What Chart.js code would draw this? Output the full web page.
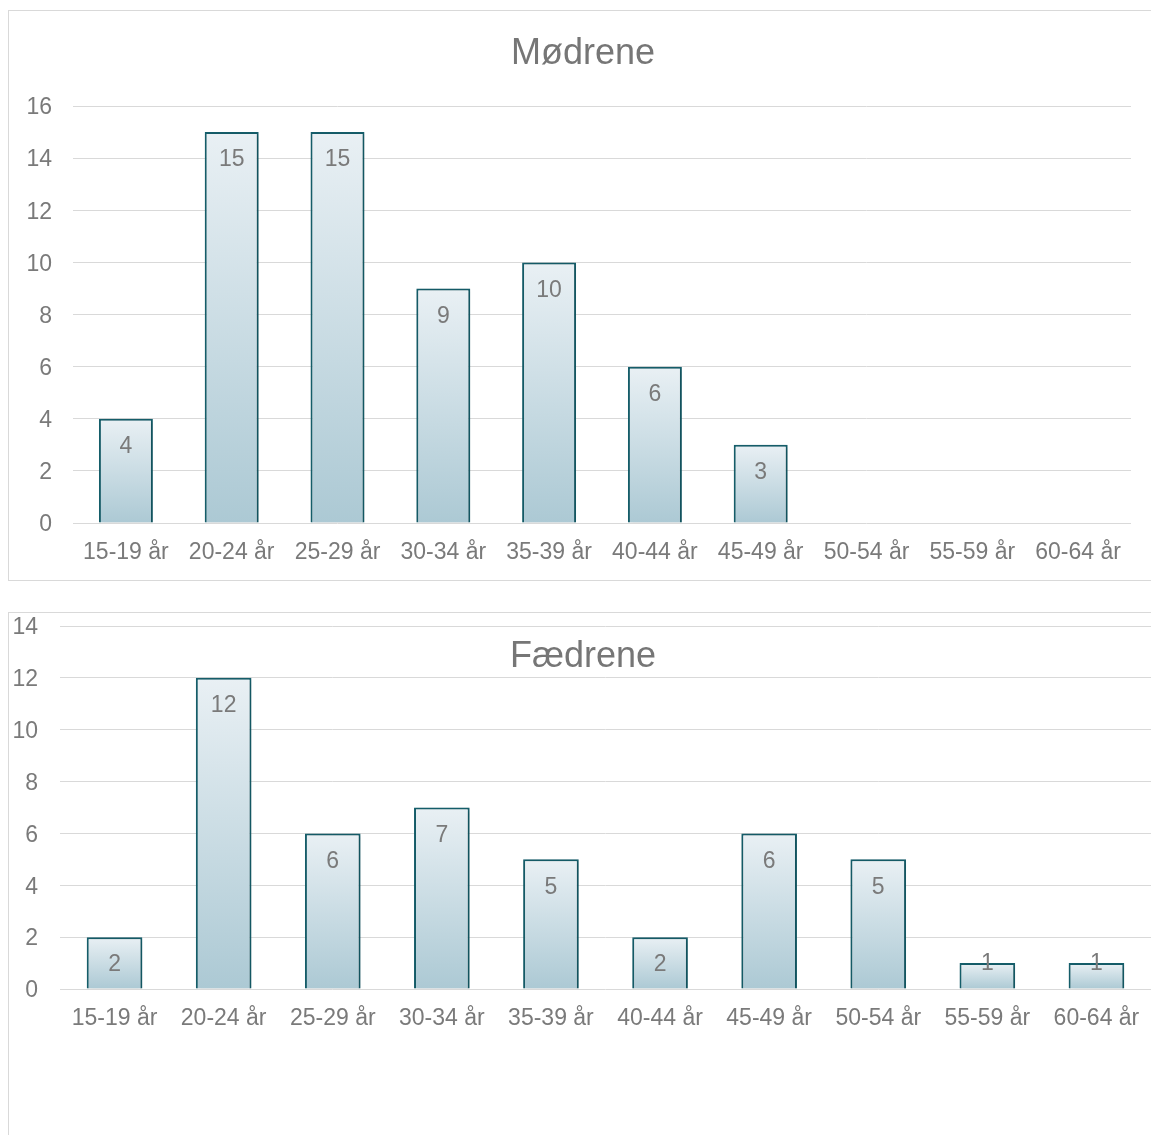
<!DOCTYPE html>
<html>
<head>
<meta charset="utf-8">
<script src="https://cdn.jsdelivr.net/npm/chart.js@4"></script>
<style>
  html, body { margin: 0; padding: 0; background: #fff; overflow: hidden; }
  .frame { position: absolute; border: 1px solid #d9d9d9; box-sizing: border-box; }
  .inner { position: absolute; left: 0; top: 0; }
</style>
</head>
<body>
<div class="frame" style="left:8px; top:10px; width:1160px; height:571px;">
  <div class="inner" style="width:1142px; height:569px;"><canvas id="motherChart"></canvas></div>
</div>
<div class="frame" style="left:8px; top:612px; width:1160px; height:560px;">
  <div class="inner" style="width:1142px; height:522px;"><canvas id="fatherChart"></canvas></div>
</div>
<script>
// age groups shared by both charts
const ageGroups = ['15-19 år', '20-24 år', '25-29 år', '30-34 år', '35-39 år',
                   '40-44 år', '45-49 år', '50-54 år', '55-59 år', '60-64 år'];
const motherCounts = [4, 15, 15, 9, 10, 6, 3, null, null, null];
const fatherCounts = [2, 12, 6, 7, 5, 2, 6, 5, 1, 1];
const motherTicks = [0, 2, 4, 6, 8, 10, 12, 14, 16];
const fatherTicks = [0, 2, 4, 6, 8, 10, 12, 14];

const FONT = "'Liberation Sans', Arial, sans-serif";
const TEXT_GREY = '#7a7a7a';

// each bar gets its own light-to-dark gradient
function barFill(ctx) {
    const chart = ctx.chart;
    if (!chart.chartArea || ctx.type !== 'data' || ctx.raw == null) return '#cfdfe6';
    const y = chart.scales.y;
    const top = y.getPixelForValue(ctx.raw);
    const base = y.getPixelForValue(0);
    if (Math.abs(base - top) < 1) return '#cfdfe6';
    const g = chart.ctx.createLinearGradient(0, top, 0, base);
    g.addColorStop(0, '#e9f0f4');
    g.addColorStop(1, '#acc9d4');
    return g;
}

const barLook = {
    id: 'barLook',
    beforeDatasetsDraw(chart) {
        const c = chart.ctx;
        c.save();
        c.shadowColor = 'rgba(0,0,0,0.22)';
        c.shadowBlur = 4;
        c.shadowOffsetX = 1;
        c.shadowOffsetY = 1;
    },
    afterDatasetsDraw(chart) {
        chart.ctx.restore();
        // value labels inside the bar top
        const c = chart.ctx;
        const meta = chart.getDatasetMeta(0);
        const values = chart.data.datasets[0].data;
        c.save();
        c.font = '23px ' + FONT;
        c.fillStyle = TEXT_GREY;
        c.textAlign = 'center';
        c.textBaseline = 'middle';
        meta.data.forEach((bar, i) => {
            if (values[i] == null) return;
            const h = bar.base - bar.y;
            const ly = h >= 40 ? bar.y + 28 : bar.y + 1;
            c.fillText(String(values[i]), bar.x, ly);
        });
        c.restore();
    },
    afterDraw(chart, args, opts) {
        if (!opts.text) return;
        const c = chart.ctx;
        c.save();
        c.font = '36px ' + FONT;
        c.fillStyle = '#767676';
        c.textAlign = 'center';
        c.textBaseline = 'middle';
        c.fillText(opts.text, opts.x, opts.y);
        c.restore();
    }
};

function makeChart(id, title, values, ticks, cfg) {
    const ctx = document.getElementById(id).getContext('2d');
    return new Chart(ctx, {
        type: 'bar',
        data: {
            labels: ageGroups,
            datasets: [{
                data: values,
                backgroundColor: barFill,
                borderColor: '#155f6c',
                borderWidth: 2,
                categoryPercentage: 1,
                barPercentage: 0.51
            }]
        },
        plugins: [barLook],
        options: {
            responsive: true,
            maintainAspectRatio: false,
            animation: false,
            layout: { padding: cfg.padding },
            scales: {
                x: {
                    afterFit: (scale) => {
                        scale.height = 42;
                        scale.paddingLeft = 0;
                        scale.paddingRight = 0;
                    },
                    grid: { display: false, drawTicks: false },
                    border: { display: false },
                    ticks: { color: TEXT_GREY, font: { family: FONT, size: 23 }, padding: 16, maxRotation: 0, autoSkip: false }
                },
                y: {
                    min: 0,
                    max: ticks[ticks.length - 1],
                    afterBuildTicks: (scale) => { scale.ticks = ticks.map(v => ({ value: v })); },
                    afterFit: (scale) => {
                        scale.width = cfg.axisWidth;
                        scale.paddingTop = 0;
                        scale.paddingBottom = 0;
                    },
                    grid: { color: '#d9d9d9', lineWidth: 1, drawTicks: false },
                    border: { display: false },
                    ticks: { color: TEXT_GREY, font: { family: FONT, size: 23 }, padding: cfg.tickPad, labelOffset: 2 }
                }
            },
            plugins: {
                legend: { display: false },
                tooltip: { enabled: false },
                barLook: { text: title, x: 574, y: cfg.titleY }
            }
        }
    });
}

makeChart('motherChart', 'Mødrene', motherCounts, motherTicks,
    { padding: { left: 0, right: 20, top: 95, bottom: 15 }, axisWidth: 64, tickPad: 21, titleY: 43 });
makeChart('fatherChart', 'Fædrene', fatherCounts, fatherTicks,
    { padding: { left: 0, right: 0, top: 13, bottom: 104 }, axisWidth: 51, tickPad: 22, titleY: 44 });
</script>
</body>
</html>
